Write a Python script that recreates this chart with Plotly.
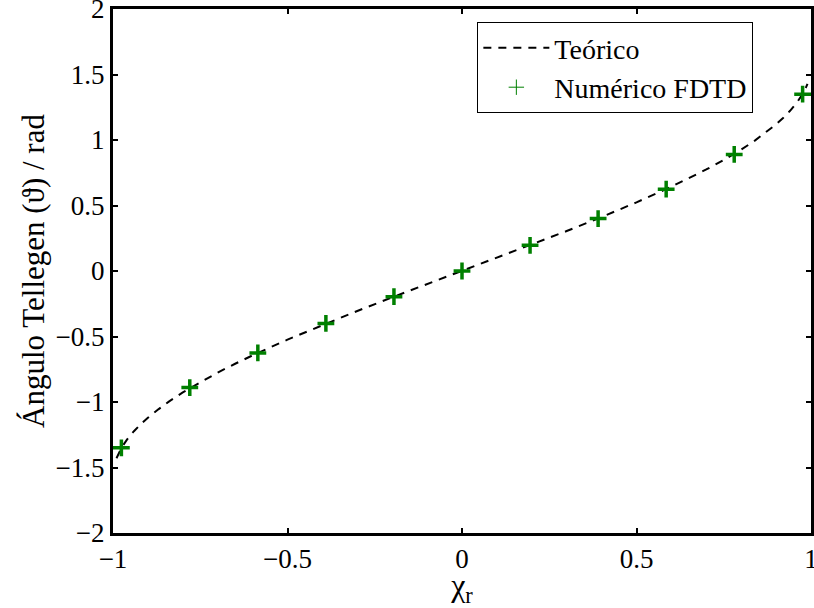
import plotly.graph_objects as go

# Theoretical Tellegen angle curve
chi_theory = [-0.99, -0.985, -0.975, -0.96, -0.94, -0.92, -0.9, -0.87, -0.84, -0.8,
              -0.75, -0.7, -0.65, -0.6, -0.5, -0.4, -0.3, -0.2, -0.1, 0.0,
              0.1, 0.2, 0.3, 0.4, 0.5, 0.6, 0.65, 0.7, 0.75, 0.8,
              0.84, 0.87, 0.9, 0.92, 0.94, 0.96, 0.975, 0.985, 0.99]
theta_theory = [-1.429, -1.398, -1.347, -1.287, -1.223, -1.168, -1.120, -1.056, -0.997, -0.927,
                -0.848, -0.775, -0.708, -0.644, -0.524, -0.412, -0.305, -0.201, -0.100, 0.0,
                0.100, 0.201, 0.305, 0.412, 0.524, 0.644, 0.708, 0.775, 0.848, 0.927,
                0.997, 1.056, 1.120, 1.168, 1.223, 1.287, 1.347, 1.398, 1.429]

# FDTD numerical results
chi_fdtd = [-0.976, -0.78, -0.585, -0.39, -0.195, 0.0, 0.195, 0.39, 0.585, 0.78, 0.976]
theta_fdtd = [-1.35, -0.89, -0.625, -0.40, -0.196, 0.0, 0.196, 0.40, 0.625, 0.89, 1.35]

x_ticks = [-1, -0.5, 0, 0.5, 1]
x_labels = ["\u22121", "\u22120.5", "0", "0.5", "1"]
y_ticks = [-2, -1.5, -1, -0.5, 0, 0.5, 1, 1.5, 2]
y_labels = ["\u22122", "\u22121.5", "\u22121", "\u22120.5", "0", "0.5", "1", "1.5", "2"]

font_family = "Liberation Serif"
green = "#008000"

fig = go.Figure()
fig.add_trace(go.Scatter(
    x=chi_theory, y=theta_theory, mode="lines", name="Teórico",
    line=dict(color="black", width=2, dash="8px,7px"),
))
fig.add_trace(go.Scatter(
    x=chi_fdtd, y=theta_fdtd, mode="markers", name="Numérico FDTD",
    showlegend=False, legendgroup="fdtd",
    marker=dict(symbol="cross-thin", size=12, color=green,
                line=dict(color=green, width=3.5)),
))
# legend entry for the FDTD points, drawn with a thin cross
fig.add_trace(go.Scatter(
    x=[None], y=[None], mode="markers", name="Numérico FDTD",
    legendgroup="fdtd",
    marker=dict(symbol="cross-thin", size=11, color=green,
                line=dict(color=green, width=1)),
))

axis_common = dict(
    showline=True, linecolor="black", linewidth=3, mirror="ticks",
    ticks="inside", ticklen=5, tickwidth=2, tickcolor="black",
    showgrid=False, zeroline=False, ticklabeloverflow="allow",
    automargin=False,
    tickfont=dict(family=font_family, size=27, color="black"),
)

fig.update_layout(
    width=814, height=608,
    margin=dict(l=113, r=3, t=9, b=75),
    paper_bgcolor="white", plot_bgcolor="white",
    font=dict(family=font_family, color="black"),
    xaxis=dict(range=[-1, 1], tickvals=x_ticks, ticktext=x_labels,
               title=dict(text="χ<sub>r</sub>", font=dict(family=font_family, size=32),
                          standoff=4),
               **axis_common),
    yaxis=dict(range=[-2, 2], tickvals=y_ticks, ticktext=y_labels,
               title=dict(text="Ángulo Tellegen (ϑ) / rad",
                          font=dict(family=font_family, size=31), standoff=2),
               **axis_common),
    legend=dict(x=0.522, y=0.975, xanchor="left", yanchor="top",
                bgcolor="white", bordercolor="black", borderwidth=1,
                font=dict(family=font_family, size=28, color="black"),
                tracegroupgap=0, itemwidth=66),
    showlegend=True,
)

fig.write_html("out.html")
